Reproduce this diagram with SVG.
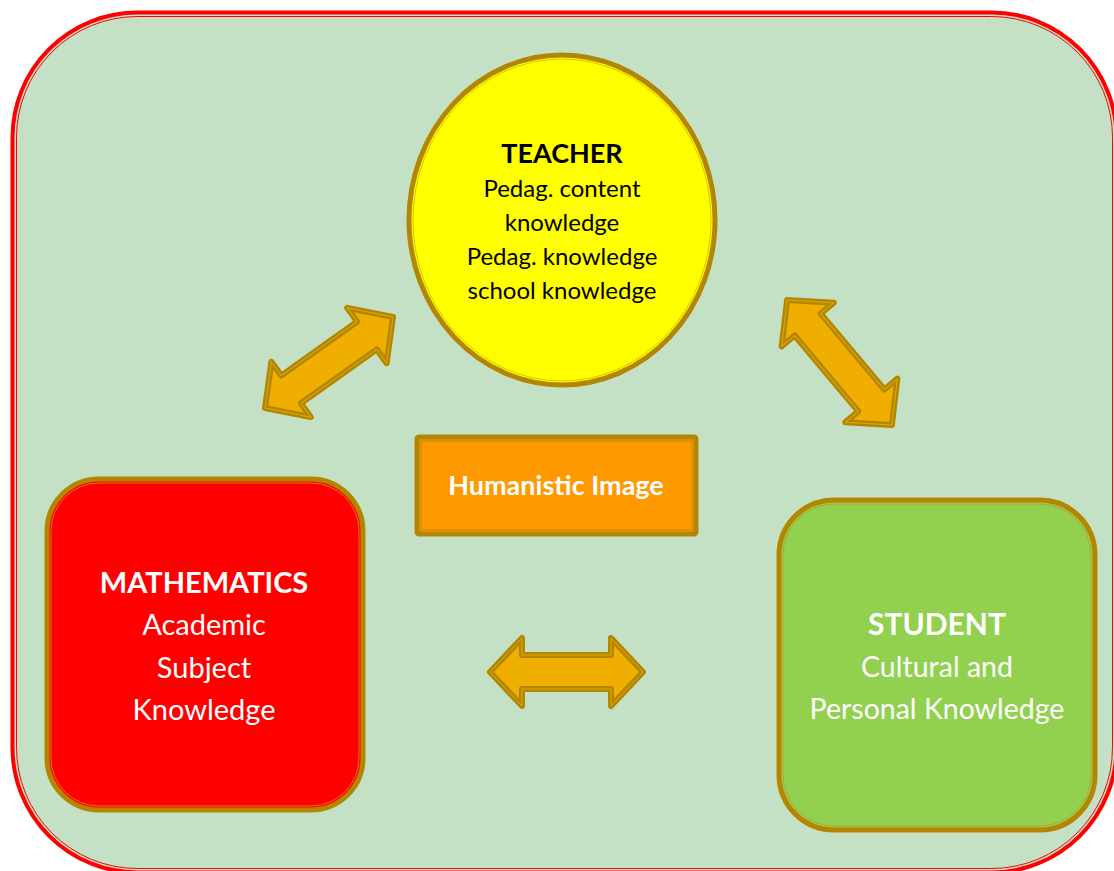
<svg xmlns="http://www.w3.org/2000/svg" width="1114" height="871" viewBox="0 0 1114 871">
<style>
.frame{fill:#C4E1C6;stroke:#FF0000;stroke-width:4}
.frame2{fill:none;stroke:#FF0000;stroke-width:1}
.edge{stroke:#B38600;stroke-width:5;stroke-linejoin:round}
.inner{fill:none;stroke-width:1}
.arrow{fill:#F0AE00;stroke:#B38600;stroke-width:6;stroke-linejoin:round}
.arrowin{fill:none;stroke:#E0A800;stroke-width:1;stroke-linejoin:round}
text{font-family:Lato,"Liberation Sans",sans-serif;text-anchor:middle}
.b{font-weight:bold}
.w{fill:#FFFFFF}
.k{fill:#000000}
</style>
<rect class="frame" x="12.5" y="12.5" width="1104" height="860" rx="125" ry="125"/>
<rect class="frame2" x="16.5" y="16.5" width="1096" height="852" rx="121" ry="121"/>

<g id="connectors">
  <g transform="translate(329,362.5) rotate(-35.4)">
    <polygon class="arrow" points="-78.5,0 -46.5,-34 -46.5,-17 46.5,-17 46.5,-34 78.5,0 46.5,34 46.5,17 -46.5,17 -46.5,34"/>
    <polygon class="arrowin" points="-78.5,0 -46.5,-34 -46.5,-17 46.5,-17 46.5,-34 78.5,0 46.5,34 46.5,17 -46.5,17 -46.5,34"/>
  </g>
  <g transform="translate(839.5,362.5) rotate(50)">
    <polygon class="arrow" points="-81.5,0 -49.5,-34 -49.5,-17 49.5,-17 49.5,-34 81.5,0 49.5,34 49.5,17 -49.5,17 -49.5,34"/>
    <polygon class="arrowin" points="-81.5,0 -49.5,-34 -49.5,-17 49.5,-17 49.5,-34 81.5,0 49.5,34 49.5,17 -49.5,17 -49.5,34"/>
  </g>
  <g transform="translate(566.5,672)">
    <polygon class="arrow" points="-76.5,0 -44.5,-34 -44.5,-17 44.5,-17 44.5,-34 76.5,0 44.5,34 44.5,17 -44.5,17 -44.5,34"/>
    <polygon class="arrowin" points="-76.5,0 -44.5,-34 -44.5,-17 44.5,-17 44.5,-34 76.5,0 44.5,34 44.5,17 -44.5,17 -44.5,34"/>
  </g>
</g>

<g id="teacher">
  <ellipse class="edge" cx="562" cy="220" rx="153" ry="165" fill="#FFFF00"/>
  <ellipse class="inner" cx="562" cy="220" rx="149" ry="161" stroke="#D9C200"/>
  <text class="b k" x="562" y="163" font-size="27">TEACHER</text>
  <text class="k" x="562" y="197" font-size="24">Pedag. content</text>
  <text class="k" x="562" y="231" font-size="24">knowledge</text>
  <text class="k" x="562" y="265" font-size="24">Pedag. knowledge</text>
  <text class="k" x="562" y="299" font-size="24">school knowledge</text>
</g>

<g id="humanistic">
  <rect class="edge" x="417" y="437" width="279" height="97" rx="2" fill="#FF9900"/>
  <rect class="inner" x="421" y="441" width="271" height="89" stroke="#C08A00"/>
  <text class="b w" x="556" y="495" font-size="27">Humanistic Image</text>
</g>

<g id="mathematics">
  <rect class="edge" x="47" y="479" width="316" height="331" rx="52" fill="#FF0000"/>
  <rect class="inner" x="51" y="483" width="308" height="323" rx="48" stroke="#E07A00"/>
  <text class="b w" x="204" y="593" font-size="29">MATHEMATICS</text>
  <text class="w" x="204" y="635" font-size="29">Academic</text>
  <text class="w" x="204" y="678" font-size="29">Subject</text>
  <text class="w" x="204" y="720" font-size="29">Knowledge</text>
</g>

<g id="student">
  <rect class="edge" x="779" y="500" width="316" height="330" rx="55" fill="#92D050"/>
  <rect class="inner" x="783" y="504" width="308" height="322" rx="51" stroke="#C0A030"/>
  <text class="b w" x="937" y="635" font-size="30">STUDENT</text>
  <text class="w" x="937" y="677" font-size="28.5">Cultural and</text>
  <text class="w" x="937" y="719" font-size="28.5">Personal Knowledge</text>
</g>
</svg>
